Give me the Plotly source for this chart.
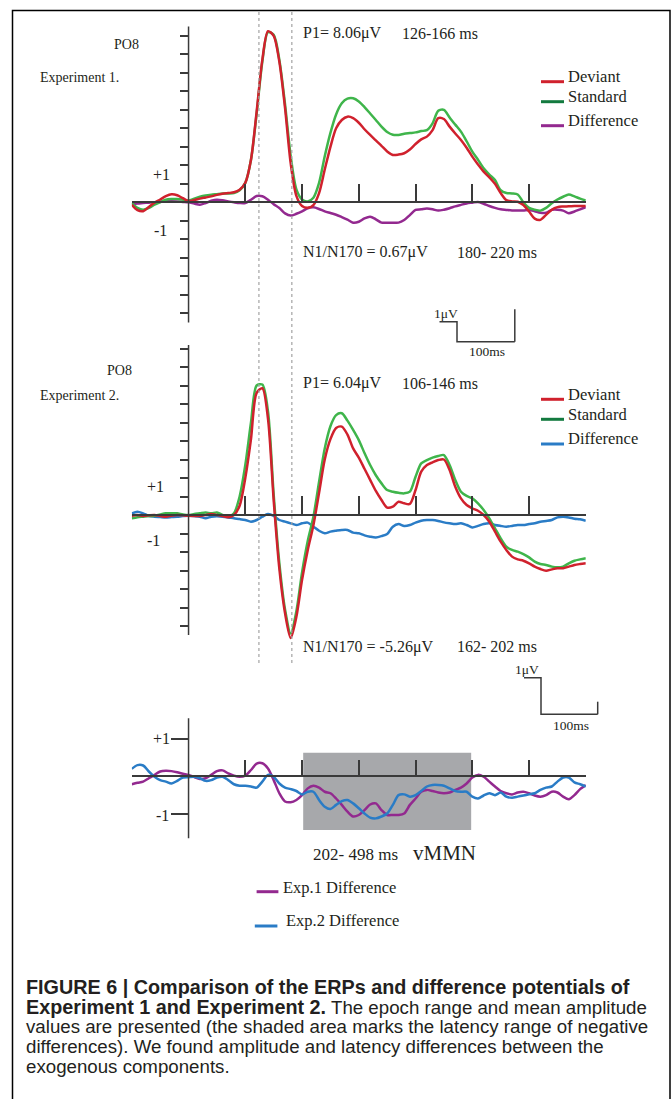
import plotly.graph_objects as go

W, H = 671, 1099

# ---------------- data (time in ms, amplitude in microvolts) ----------------
time_ms = list(range(-100, 701, 10))

exp1_deviant = [-0.13, -0.42, -0.48, -0.25, -0.02, 0.15, 0.33, 0.43, 0.38, 0.22,
                0.07, 0.12, 0.2, 0.26, 0.32, 0.4, 0.46, 0.5, 0.54, 0.68,
                1.05, 2.3, 4.9, 7.7, 9.25, 9.0, 7.6, 5.1, 2.1, 0.35,
                -0.2, -0.3, -0.15, 0.5, 1.77, 3.0, 4.0, 4.45, 4.63, 4.55,
                4.3, 3.95, 3.64, 3.35, 3.05, 2.75, 2.56, 2.58, 2.65, 2.85,
                3.15, 3.4, 3.55, 3.9, 4.55, 4.5, 4.09, 3.72, 3.37, 2.95,
                2.47, 2.05, 1.66, 1.35, 1.0, 0.5, 0.12, 0.05, 0.03, -0.15,
                -0.5, -0.88, -0.95, -0.68, -0.4, -0.26, -0.23, -0.22, -0.2, -0.2,
                -0.2]
exp1_standard = [-0.04, -0.3, -0.4, -0.3, -0.13, 0.0, 0.14, 0.18, 0.18, 0.14,
                 0.09, 0.2, 0.3, 0.37, 0.41, 0.44, 0.47, 0.48, 0.5, 0.65,
                 1.05, 2.3, 4.8, 7.6, 9.2, 9.05, 7.7, 5.3, 2.5, 0.7,
                 0.15, 0.05, 0.25, 1.05, 2.49, 3.75, 4.75, 5.35, 5.6, 5.62,
                 5.45, 5.15, 4.8, 4.45, 4.09, 3.8, 3.65, 3.64, 3.7, 3.74,
                 3.78, 3.85, 3.9, 4.27, 4.95, 5.0, 4.59, 4.2, 3.82, 3.3,
                 2.74, 2.3, 1.84, 1.5, 1.2, 0.65, 0.5, 0.48, 0.42, 0.0,
                 -0.3, -0.4, -0.45, -0.3, -0.05, 0.15, 0.3, 0.42, 0.32, 0.2,
                 0.1]
exp1_difference = [-0.09, -0.06, -0.04, -0.02, 0.0, 0.03, 0.05, 0.05, 0.04, 0.02,
                   0.0, -0.07, -0.13, -0.04, 0.08, 0.14, 0.11, 0.05, 0.0, -0.04,
                   -0.04, 0.14, 0.34, 0.33, 0.14, -0.1, -0.31, -0.6, -0.72, -0.62,
                   -0.49, -0.32, -0.27, -0.36, -0.49, -0.58, -0.67, -0.8, -0.94, -1.1,
                   -1.05, -0.87, -0.78, -0.92, -1.1, -1.1, -1.1, -1.1, -0.96, -0.69,
                   -0.41, -0.38, -0.34, -0.38, -0.45, -0.4, -0.32, -0.22, -0.14, -0.06,
                   -0.02, 0.02, -0.08, -0.2, -0.3, -0.38, -0.41, -0.44, -0.45, -0.44,
                   -0.41, -0.48, -0.56, -0.56, -0.41, -0.4, -0.45, -0.59, -0.5, -0.38,
                   -0.27]

exp2_deviant = [-0.04, 0.0, -0.05, -0.02, 0.0, -0.05, -0.09, -0.04, 0.0, -0.02,
                -0.04, -0.05, -0.05, 0.0, 0.05, 0.0, -0.05, -0.12, 0.0, 0.5,
                2.0, 4.1, 6.6, 6.85, 5.2, 0.8, -2.9, -5.3, -6.65, -5.5,
                -3.5, -1.9, -0.55, 1.2, 3.0, 4.1, 4.7, 4.78, 4.35, 3.6,
                3.1, 2.5, 1.9, 1.3, 0.81, 0.4, 0.45, 0.72, 0.63, 0.6,
                1.35, 2.34, 2.7, 2.85, 2.97, 3.0, 2.43, 1.53, 0.9, 0.54,
                0.36, 0.23, 0.0, -0.36, -0.9, -1.44, -1.89, -2.25, -2.4, -2.47,
                -2.61, -2.79, -2.92, -3.01, -2.94, -2.88, -2.88, -2.79, -2.7, -2.65,
                -2.61]
exp2_standard = [-0.18, -0.12, -0.09, -0.06, -0.04, 0.03, 0.09, 0.1, 0.09, 0.03,
                 0.0, 0.05, 0.09, 0.13, 0.09, 0.14, 0.0, -0.09, 0.09, 1.0,
                 2.7, 5.0, 7.0, 7.05, 5.6, 1.1, -2.6, -5.1, -6.4, -5.2,
                 -3.1, -1.4, -0.1, 1.8, 3.6, 4.8, 5.4, 5.5, 5.1, 4.6,
                 4.05, 3.35, 2.7, 2.15, 1.71, 1.35, 1.26, 1.2, 1.17, 1.26,
                 2.07, 2.79, 2.97, 3.1, 3.19, 3.24, 2.7, 1.89, 1.26, 1.03,
                 0.9, 0.63, 0.27, -0.18, -0.72, -1.26, -1.71, -1.89, -1.98, -2.11,
                 -2.29, -2.52, -2.65, -2.7, -2.79, -2.83, -2.79, -2.61, -2.47, -2.4,
                 -2.34]
exp2_difference = [0.09, 0.18, 0.09, -0.05, -0.09, -0.11, -0.13, -0.11, -0.09, -0.06,
                   -0.04, -0.06, -0.09, -0.18, -0.09, -0.07, -0.09, -0.13, -0.18, -0.22,
                   -0.27, -0.36, -0.27, -0.09, 0.05, -0.05, -0.27, -0.36, -0.45, -0.54,
                   -0.45, -0.41, -0.63, -0.85, -0.99, -0.9, -0.85, -0.81, -0.81, -0.95,
                   -0.99, -1.1, -1.17, -1.21, -1.14, -1.03, -0.63, -0.49, -0.59, -0.54,
                   -0.41, -0.31, -0.27, -0.27, -0.32, -0.4, -0.45, -0.49, -0.45, -0.54,
                   -0.67, -0.59, -0.49, -0.45, -0.54, -0.59, -0.63, -0.59, -0.54, -0.54,
                   -0.49, -0.45, -0.36, -0.32, -0.27, -0.13, -0.09, -0.13, -0.2, -0.23,
                   -0.31]

# bottom panel (difference waves at double gain)
vmmn_exp1 = [-0.22, -0.18, -0.15, -0.06, 0.03, 0.12, 0.14, 0.13, 0.1, 0.06,
             0.03, -0.03, -0.08, -0.06, 0.03, 0.13, 0.15, 0.07, 0.01, -0.02,
             0.01, 0.16, 0.33, 0.34, 0.2, -0.11, -0.46, -0.68, -0.7, -0.64,
             -0.51, -0.33, -0.26, -0.31, -0.42, -0.46, -0.6, -0.77, -0.95, -1.08,
             -1.04, -0.91, -0.76, -0.73, -0.91, -1.04, -1.04, -1.04, -1.0, -0.77,
             -0.6, -0.42, -0.37, -0.4, -0.44, -0.46, -0.44, -0.37, -0.31, -0.2,
             -0.04, 0.03, -0.02, -0.15, -0.28, -0.4, -0.46, -0.49, -0.44, -0.42,
             -0.46, -0.52, -0.55, -0.51, -0.42, -0.44, -0.55, -0.62, -0.51, -0.35,
             -0.24]
vmmn_exp2 = [0.19, 0.29, 0.28, 0.12, -0.02, -0.11, -0.15, -0.2, -0.13, -0.04,
             -0.03, -0.02, -0.06, -0.13, -0.11, -0.04, -0.02, -0.11, -0.22, -0.26,
             -0.26, -0.28, -0.31, -0.15, 0.03, -0.02, -0.2, -0.31, -0.35, -0.4,
             -0.49, -0.42, -0.42, -0.64, -0.82, -0.88, -0.77, -0.67, -0.64, -0.73,
             -0.86, -1.0, -1.11, -1.13, -1.08, -1.0, -0.77, -0.51, -0.49, -0.55,
             -0.51, -0.4, -0.28, -0.24, -0.24, -0.26, -0.33, -0.4, -0.42, -0.42,
             -0.55, -0.6, -0.52, -0.46, -0.51, -0.44, -0.55, -0.58, -0.55, -0.52,
             -0.49, -0.46, -0.37, -0.31, -0.28, -0.15, -0.04, -0.04, -0.17, -0.22,
             -0.28]

x_ticks = [100, 200, 300, 400, 500, 600, 700]
y_ticks_erp = [-6, -5, -4, -3, -2, -1, 1, 2, 3, 4, 5, 6, 7, 8, 9]
y_ticks_diff = [-1, 1]
marker_lines_ms = [124, 182]
vmmn_window = (202, 498)
vmmn_box_uv = (-1.44, 0.62)

# ---------------- styling ----------------
RED = "#d0212d"
GREEN = "#3fb54b"
GREEN_DARK = "#137a3f"
PURPLE = "#93298f"
BLUE = "#2a7cc6"
AXIS = "#3a3a3a"
SERIF = "Liberation Serif"
SANS = "Liberation Sans"


def px(x):
    return x / W


def py(y):
    return 1 - y / H


fig = go.Figure()

panels = {
    "1": dict(zero=202.3, scale=18.5, top=20, bottom=330, ytop=9.5, ybot=-6.5, xtl=18, ytl=8.5, yt=y_ticks_erp),
    "2": dict(zero=515.0, scale=18.5, top=340, bottom=648, ytop=9.19, ybot=-6.49, xtl=18, ytl=8.5, yt=y_ticks_erp),
    "3": dict(zero=776.0, scale=37.5, top=712, bottom=845, ytop=1.54, ybot=-1.66, xtl=15, ytl=17, yt=y_ticks_diff),
}

layout_axes = {}
shapes = []
for k, p in panels.items():
    xname = "xaxis" if k == "1" else f"xaxis{k}"
    yname = "yaxis" if k == "1" else f"yaxis{k}"
    xref = "x" if k == "1" else f"x{k}"
    yref = "y" if k == "1" else f"y{k}"
    r_top = (p["zero"] - p["top"]) / p["scale"]
    r_bot = (p["zero"] - p["bottom"]) / p["scale"]
    layout_axes[xname] = dict(
        domain=[px(131.8), px(585.8)], range=[-100, 700], anchor="free",
        position=py(p["zero"]), showline=True, linecolor=AXIS, linewidth=1.5,
        ticks="inside", ticklen=p["xtl"], tickwidth=1.5, tickcolor=AXIS,
        tickvals=x_ticks, showticklabels=False, showgrid=False, zeroline=False,
    )
    layout_axes[yname] = dict(
        domain=[py(p["bottom"]), py(p["top"])], range=[r_bot, r_top], anchor="free",
        position=px(188.3), showline=False, ticks="outside", ticklen=p["ytl"],
        tickwidth=1.5, tickcolor=AXIS, tickvals=p["yt"], showticklabels=False,
        showgrid=False, zeroline=False,
    )
    shapes.append(dict(type="line", xref=xref, yref=yref, x0=0, x1=0,
                       y0=p["ybot"], y1=p["ytop"], line=dict(color=AXIS, width=1.5)))

shapes.insert(0, dict(type="rect", xref="x3", yref="y3", x0=vmmn_window[0], x1=vmmn_window[1],
                      y0=vmmn_box_uv[0], y1=vmmn_box_uv[1], fillcolor="#a7a8ab",
                      line=dict(width=0), layer="below"))

for t in marker_lines_ms:
    shapes.append(dict(type="line", xref="x", yref="paper", x0=t, x1=t,
                       y0=py(663), y1=py(12), line=dict(color="#a3a3a3", width=1.2, dash="dot")))


def add(y, color, xa, ya):
    fig.add_trace(go.Scatter(x=time_ms, y=y, mode="lines", xaxis=xa, yaxis=ya,
                             line=dict(color=color, width=2.5, shape="spline", smoothing=0.8),
                             hoverinfo="skip", showlegend=False))


add(exp1_difference, PURPLE, "x", "y")
add(exp1_standard, GREEN, "x", "y")
add(exp1_deviant, RED, "x", "y")
add(exp2_difference, BLUE, "x2", "y2")
add(exp2_standard, GREEN, "x2", "y2")
add(exp2_deviant, RED, "x2", "y2")
add(vmmn_exp1, PURPLE, "x3", "y3")
add(vmmn_exp2, BLUE, "x3", "y3")


def seg(x0, x1, y, color):
    shapes.append(dict(type="line", xref="paper", yref="paper", x0=px(x0), x1=px(x1),
                       y0=py(y), y1=py(y), line=dict(color=color, width=3)))


seg(541, 564, 81.7, RED)
seg(541, 564, 101.7, GREEN_DARK)
seg(541, 564, 125.7, PURPLE)
seg(541, 564, 399.3, RED)
seg(541, 564, 419.3, GREEN_DARK)
seg(541, 564, 444.0, BLUE)
seg(256.6, 278.4, 891.7, PURPLE)
seg(254.8, 277.4, 926.0, BLUE)


def path(points, color=AXIS, width=1.5):
    d = "M " + " L ".join(f"{px(x)},{py(y)}" for x, y in points)
    shapes.append(dict(type="path", xref="paper", yref="paper", path=d,
                       line=dict(color=color, width=width)))


path([(439.5, 321.7), (457, 321.7), (457, 341.7), (514.8, 341.7)])
path([(514.8, 309.3), (514.8, 341.7)])
path([(524, 677.7), (541, 677.7), (541, 714.3), (597.7, 714.3)])
path([(597.7, 701.7), (597.7, 714.3)])

shapes.append(dict(type="rect", xref="paper", yref="paper", x0=px(12.5), x1=px(670),
                   y0=py(1115), y1=py(10.5), line=dict(color="black", width=1.5)))

annotations = []


def text(s, x, y, size, anchor="left", family=SERIF, color="#231f20"):
    annotations.append(dict(text=s, x=px(x), y=py(y), xref="paper", yref="paper",
                            xanchor=anchor, yanchor="middle", showarrow=False,
                            font=dict(family=family, size=size, color=color)))


# panel 1
text("PO8", 126.2, 44, 14, "center")
text("Experiment 1.", 37.6, 77.7, 14)
text("+1", 161.5, 174, 16, "center")
text("-1", 160.5, 230, 16, "center")
text("P1= 8.06μV", 300.8, 33.3, 16)
text("126-166 ms", 400.0, 33.3, 16)
text("N1/N170 = 0.67μV", 300.8, 252.3, 16)
text("180- 220 ms", 454.9, 252.3, 16)
text("Deviant", 566, 76.7, 16.5)
text("Standard", 566, 96.7, 16.5)
text("Difference", 566, 120.0, 16.5)
text("1μV", 445.6, 313.3, 13.5, "center")
text("100ms", 487.4, 351.7, 13.5, "center")

# panel 2
text("PO8", 119.8, 370.7, 14, "center")
text("Experiment 2.", 37.6, 395.7, 14)
text("+1", 155.5, 486.7, 16, "center")
text("-1", 153.5, 540.7, 16, "center")
text("P1= 6.04μV", 300.8, 383.3, 16)
text("106-146 ms", 400.0, 383.3, 16)
text("N1/N170 = -5.26μV", 300.8, 646.7, 16)
text("162- 202 ms", 454.9, 646.7, 16)
text("Deviant", 566, 394.3, 16.5)
text("Standard", 566, 414.3, 16.5)
text("Difference", 566, 438.3, 16.5)
text("1μV", 527.3, 669, 13.5, "center")
text("100ms", 570.7, 725, 13.5, "center")

# panel 3
text("+1", 161, 738.3, 16, "center")
text("-1", 162.3, 815, 16, "center")
text("202- 498 ms", 310.5, 854.3, 17)
text("vMMN", 411.3, 853.3, 21)
text("Exp.1 Difference", 281, 887.7, 16.5)
text("Exp.2 Difference", 284, 920.0, 16.5)

# caption
B = '<span style="font-size:19.8px"><b>{}</b></span>'
cap = [
    B.format("FIGURE 6 | Comparison of the ERPs and difference potentials of"),
    B.format("Experiment 1 and Experiment 2.") + " The epoch range and mean amplitude",
    "values are presented (the shaded area marks the latency range of negative",
    "differences). We found amplitude and latency differences between the",
    "exogenous components.",
]
for i, line in enumerate(cap):
    text(line, 23.5, 986.5 + 20 * i, 18.7, "left", SANS, "#231f20")

fig.update_layout(
    width=W, height=H, margin=dict(l=0, r=0, t=0, b=0),
    paper_bgcolor="white", plot_bgcolor="rgba(0,0,0,0)",
    showlegend=False, shapes=shapes, annotations=annotations,
    **layout_axes,
)

fig.write_html("out.html", config={"displayModeBar": False},
               post_script="document.body.style.margin='0px';")
